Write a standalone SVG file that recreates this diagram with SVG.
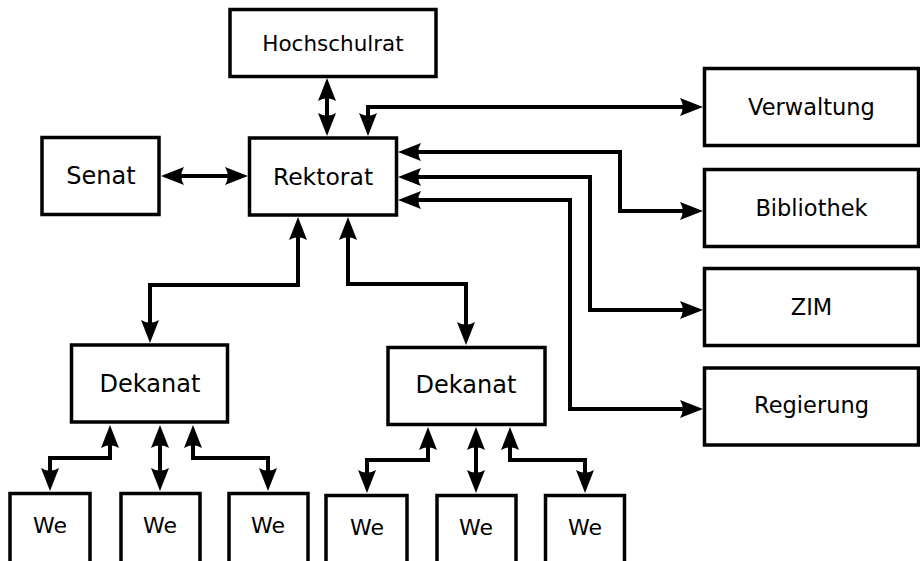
<svg xmlns="http://www.w3.org/2000/svg" width="920" height="561" viewBox="0 0 920 561">
<defs>
<style>
.box{fill:#fff;stroke:#000;stroke-width:3.5}
.t{font-family:"DejaVu Sans",sans-serif;fill:#000;text-anchor:middle}
.c{fill:none;stroke:#000;stroke-width:4;marker-start:url(#a);marker-end:url(#a)}
</style>
<marker id="a" markerUnits="userSpaceOnUse" viewBox="-14 -10 26 20" refX="0" refY="0" markerWidth="26" markerHeight="20" orient="auto-start-reverse">
<path d="M10,0 L-13,-9 Q-7.5,0 -13,9 Z" fill="#000"/>
</marker>
</defs>
<rect width="920" height="561" fill="#fff"/>
<g id="connectors">
<path class="c" d="M327,88 L327,126"/>
<path class="c" d="M368,126 L368,107 L693,107"/>
<path class="c" d="M408,152 L620,152 L620,211 L693,211"/>
<path class="c" d="M408,177 L590,177 L590,310 L693,310"/>
<path class="c" d="M408,200 L570,200 L570,409 L693,409"/>
<path class="c" d="M171,176 L238,176"/>
<path class="c" d="M298,227 L298,285 L150,285 L150,333"/>
<path class="c" d="M348,227 L348,284 L466,284 L466,335"/>
<path class="c" d="M110,435 L110,458 L50,458 L50,481"/>
<path class="c" d="M160,435 L160,481"/>
<path class="c" d="M193,435 L193,458 L268,458 L268,481"/>
<path class="c" d="M428,437 L428,460 L367,460 L367,483"/>
<path class="c" d="M476,437 L476,483"/>
<path class="c" d="M510,437 L510,460 L585,460 L585,483"/>
</g>
<g id="hochschulrat"><rect class="box" x="230" y="9.5" width="206" height="67"/><text class="t" x="333" y="51" font-size="21.5">Hochschulrat</text></g>
<g id="rektorat"><rect class="box" x="249.5" y="138" width="147" height="77"/><text class="t" x="323" y="185" font-size="23.5">Rektorat</text></g>
<g id="senat"><rect class="box" x="42" y="137.5" width="117" height="77"/><text class="t" x="101" y="184" font-size="24">Senat</text></g>
<g id="verwaltung"><rect class="box" x="704.5" y="68.5" width="214" height="77"/><text class="t" x="811.5" y="115" font-size="22.5">Verwaltung</text></g>
<g id="bibliothek"><rect class="box" x="704.5" y="169.5" width="214" height="77"/><text class="t" x="811.5" y="216" font-size="22.5">Bibliothek</text></g>
<g id="zim"><rect class="box" x="704.5" y="268.5" width="214" height="77"/><text class="t" x="811.5" y="315" font-size="22.5">ZIM</text></g>
<g id="regierung"><rect class="box" x="704.5" y="368" width="214" height="77"/><text class="t" x="811.5" y="413" font-size="22.5">Regierung</text></g>
<g id="dekanat1"><rect class="box" x="71.5" y="345" width="156" height="77"/><text class="t" x="150" y="392" font-size="24">Dekanat</text></g>
<g id="dekanat2"><rect class="box" x="388" y="347.5" width="157" height="77"/><text class="t" x="466" y="393" font-size="24">Dekanat</text></g>
<g id="we1"><rect class="box" x="10" y="493.5" width="80" height="75"/><text class="t" x="50" y="533" font-size="22">We</text></g>
<g id="we2"><rect class="box" x="121" y="493.5" width="79" height="75"/><text class="t" x="160" y="533" font-size="22">We</text></g>
<g id="we3"><rect class="box" x="229" y="493.5" width="79" height="75"/><text class="t" x="268" y="533" font-size="22">We</text></g>
<g id="we4"><rect class="box" x="326" y="495.5" width="81" height="75"/><text class="t" x="367" y="535" font-size="22">We</text></g>
<g id="we5"><rect class="box" x="437" y="495.5" width="79" height="75"/><text class="t" x="476" y="535" font-size="22">We</text></g>
<g id="we6"><rect class="box" x="545.5" y="495.5" width="79" height="75"/><text class="t" x="585" y="535" font-size="22">We</text></g>
</svg>
